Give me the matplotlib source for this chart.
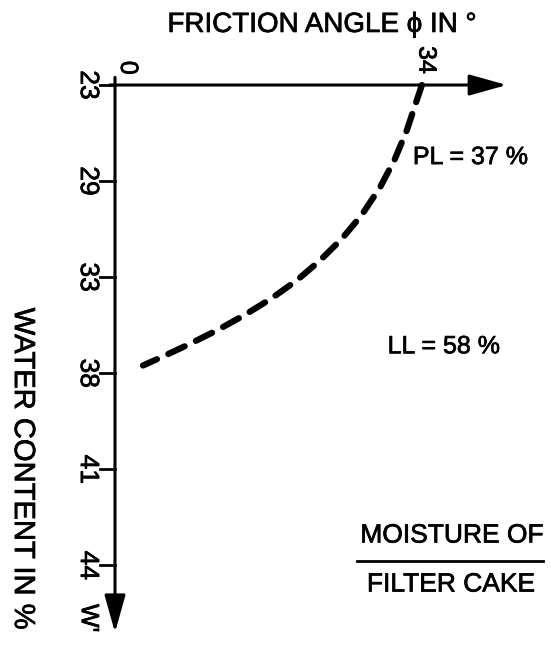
import numpy as np
import matplotlib
matplotlib.use("Agg")
import matplotlib.pyplot as plt
import matplotlib.patheffects as pe

plt.rcParams['font.family'] = ['Liberation Sans', 'DejaVu Sans']
plt.rcParams['lines.scale_dashes'] = False

# water content ticks (drawn evenly spaced, as in the original sketch)
wc_ticks = [23, 29, 33, 38, 41, 44]
# curve: friction angle vs water content of filter cake
curve_phi = [34, 33.44, 32.34, 31.0, 29.35, 27.35, 25.14, 22.7, 20.16, 17.39, 14.4, 11.41, 8.31, 5.32, 3.1]
curve_wc = [23, 23.94, 25.81, 27.63, 29.27, 30.4, 31.4, 32.31, 33.16, 34.09, 34.96, 35.74, 36.47, 37.13, 37.6]
phi_ticks = [0, 34]
pl_value = 37
ll_value = 58

tick_pos = np.arange(len(wc_ticks))


def wc_to_pos(w):
    return np.interp(w, wc_ticks, tick_pos)


bold = [pe.withStroke(linewidth=0.5, foreground='black')]

fig = plt.figure(figsize=(5.51, 6.46), dpi=100)
ax = fig.add_axes([0, 0, 1, 1])
ax.set_xlim(-12.74, 48.3)
ax.set_ylim(5.84, -0.885)
ax.axis('off')

# axes with arrows
arrow = dict(arrowstyle='-|>,head_length=1.0,head_width=0.28', mutation_scale=23,
             lw=2.2, color='black', shrinkA=0, shrinkB=0)
ax.annotate('', xy=(43.4, 0), xytext=(-0.6, 0), arrowprops=arrow)
ax.annotate('', xy=(0, 5.7), xytext=(0, -0.08), arrowprops=arrow)

# ticks on water content axis
for p, w in zip(tick_pos, wc_ticks):
    ax.plot([-1.66, 0], [p, p], color='black', lw=2)
    ax.text(-3.0, p, str(w), rotation=-90, ha='center', va='center',
            fontsize=19, path_effects=bold)

ax.text(phi_ticks[0] + 1.8, -0.18, str(phi_ticks[0]), rotation=90, ha='center', va='center',
        fontsize=18, path_effects=bold)
ax.text(phi_ticks[1] + 0.5, -0.26, str(phi_ticks[1]), rotation=-90, ha='center', va='center',
        fontsize=18, path_effects=bold)
ax.text(-2.9, 5.55, "W'", rotation=-90, ha='center', va='center', fontsize=18, path_effects=bold)

# dashed curve
ax.plot(curve_phi, wc_to_pos(curve_wc), color='black', lw=4.5,
        dashes=(13, 9), dash_capstyle='round')

# labels
ax.text(22.9, -0.625, 'FRICTION ANGLE ϕ IN °', ha='center', va='center', fontsize=20, path_effects=bold)
ax.text(-10.2, 3.99, 'WATER CONTENT IN %', rotation=-90, ha='center', va='center',
        fontsize=21, path_effects=bold)
ax.text(33.0, 0.75, f'PL = {pl_value} %', ha='left', va='center', fontsize=18, path_effects=bold)
ax.text(30.2, 2.72, f'LL = {ll_value} %', ha='left', va='center', fontsize=18, path_effects=bold)
ax.text(37.3, 4.69, 'MOISTURE OF', ha='center', va='center', fontsize=19, path_effects=bold)
ax.plot([26.8, 47.4], [4.95, 4.95], color='black', lw=2)
ax.text(37.2, 5.2, 'FILTER CAKE', ha='center', va='center', fontsize=19, path_effects=bold)

fig.savefig('out.png', dpi=100)
